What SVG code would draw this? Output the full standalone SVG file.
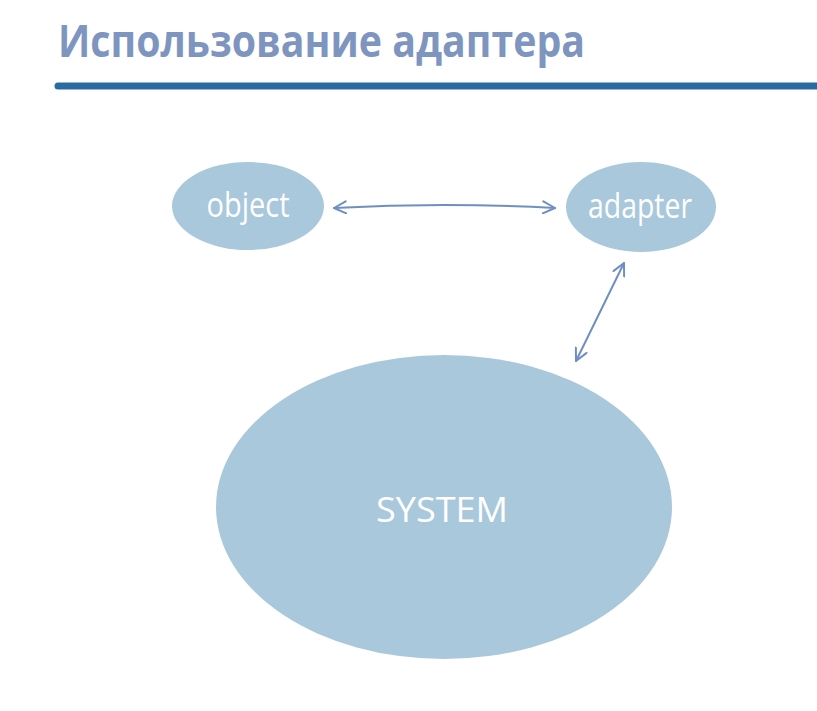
<svg xmlns="http://www.w3.org/2000/svg" width="817" height="711" viewBox="0 0 817 711">
<style>
.node{fill:#a9c8dc}
.lbl{fill:#ffffff;font-family:"Open Sans",sans-serif;font-weight:500;font-size:34px;text-anchor:middle}
.conn{fill:none;stroke:#6f8fc2;stroke-width:2;stroke-linecap:round;stroke-linejoin:round}
</style>
<defs>
<marker id="ah" viewBox="0 0 14 14" refX="13" refY="7" markerWidth="14" markerHeight="14" markerUnits="userSpaceOnUse" orient="auto-start-reverse">
<path d="M1,1 L13,7 L1,13" fill="none" stroke="#6f8fc2" stroke-width="2" stroke-linecap="round" stroke-linejoin="round"/>
</marker>
</defs>
<rect width="817" height="711" fill="#ffffff"/>
<text x="58" y="57" font-family="Open Sans, sans-serif" font-weight="bold" font-size="44" fill="#7d95bf" textLength="527" lengthAdjust="spacingAndGlyphs">Использование адаптера</text>
<path d="M58,86 L817,86" stroke="#2a6aa3" stroke-width="7" stroke-linecap="round"/>
<g id="object">
<ellipse class="node" cx="248" cy="206" rx="76" ry="44"/>
<text class="lbl" x="248" y="217" textLength="83" lengthAdjust="spacingAndGlyphs">object</text>
</g>
<g id="adapter">
<ellipse class="node" cx="641" cy="207" rx="75" ry="45"/>
<text class="lbl" x="640" y="218" textLength="104" lengthAdjust="spacingAndGlyphs">adapter</text>
</g>
<g id="system">
<ellipse class="node" cx="444" cy="507" rx="228" ry="152"/>
<text class="lbl" x="442" y="522" font-size="39" textLength="132" lengthAdjust="spacingAndGlyphs">SYSTEM</text>
</g>
<g id="connectors">
<path class="conn" d="M334,208 Q444,202 555,208" marker-start="url(#ah)" marker-end="url(#ah)"/>
<path class="conn" d="M624,263 L576,361" marker-start="url(#ah)" marker-end="url(#ah)"/>
</g>
</svg>
